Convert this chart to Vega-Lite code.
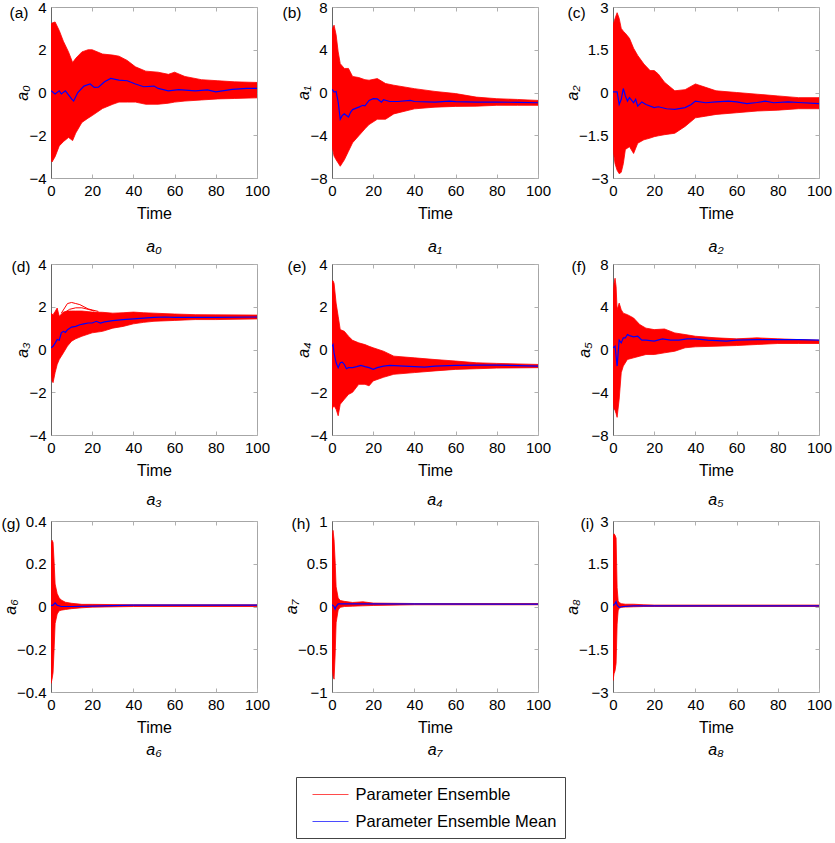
{
  "$schema": "https://vega.github.io/schema/vega-lite/v6.json",
  "background": "white",
  "padding": {"left": 0, "top": -1, "right": 2, "bottom": 0},
  "columns": 3,
  "spacing": {"row": 86, "column": 75},
  "bounds": "flush",
  "resolve": {"scale": {"x": "independent", "y": "independent", "stroke": "shared"}, "legend": {"stroke": "shared"}},
  "datasets": {
    "band": [
      {"p":"a0","t":0,"lo":-3.1,"hi":3.2},{"p":"a0","t":0.5,"lo":-3.25,"hi":3.25},{"p":"a0","t":2,"lo":-3.0,"hi":3.3},{"p":"a0","t":4,"lo":-2.5,"hi":2.9},{"p":"a0","t":6,"lo":-2.3,"hi":2.4},{"p":"a0","t":8.5,"lo":-2.1,"hi":1.9},{"p":"a0","t":10.5,"lo":-2.25,"hi":1.4},{"p":"a0","t":12,"lo":-1.9,"hi":1.6},{"p":"a0","t":15,"lo":-1.4,"hi":1.9},{"p":"a0","t":18,"lo":-1.2,"hi":2.0},{"p":"a0","t":20,"lo":-1.08,"hi":2.0},{"p":"a0","t":25,"lo":-0.75,"hi":1.8},{"p":"a0","t":30,"lo":-0.55,"hi":1.75},{"p":"a0","t":33,"lo":-0.45,"hi":1.7},{"p":"a0","t":37,"lo":-0.45,"hi":1.5},{"p":"a0","t":41,"lo":-0.45,"hi":1.2},{"p":"a0","t":46,"lo":-0.55,"hi":1.0},{"p":"a0","t":52,"lo":-0.55,"hi":0.95},{"p":"a0","t":57,"lo":-0.5,"hi":0.85},{"p":"a0","t":60,"lo":-0.45,"hi":0.95},{"p":"a0","t":65,"lo":-0.4,"hi":0.75},{"p":"a0","t":73,"lo":-0.35,"hi":0.6},{"p":"a0","t":81,"lo":-0.3,"hi":0.55},{"p":"a0","t":89,"lo":-0.28,"hi":0.5},{"p":"a0","t":100,"lo":-0.25,"hi":0.47},
      {"p":"a1","t":0,"lo":-5.0,"hi":5.9},{"p":"a1","t":1,"lo":-5.95,"hi":6.3},{"p":"a1","t":2,"lo":-6.3,"hi":5.4},{"p":"a1","t":3,"lo":-6.6,"hi":3.8},{"p":"a1","t":4,"lo":-6.9,"hi":2.7},{"p":"a1","t":6,"lo":-6.3,"hi":2.25},{"p":"a1","t":8,"lo":-5.5,"hi":2.25},{"p":"a1","t":10,"lo":-4.7,"hi":1.5},{"p":"a1","t":13,"lo":-4.05,"hi":1.4},{"p":"a1","t":16,"lo":-3.4,"hi":1.2},{"p":"a1","t":18,"lo":-3.0,"hi":1.15},{"p":"a1","t":22,"lo":-2.5,"hi":1.3},{"p":"a1","t":26,"lo":-2.5,"hi":0.84},{"p":"a1","t":30,"lo":-2.0,"hi":0.68},{"p":"a1","t":40,"lo":-1.53,"hi":0.36},{"p":"a1","t":50,"lo":-1.37,"hi":0.1},{"p":"a1","t":60,"lo":-1.3,"hi":-0.1},{"p":"a1","t":70,"lo":-1.28,"hi":-0.43},{"p":"a1","t":80,"lo":-1.2,"hi":-0.58},{"p":"a1","t":90,"lo":-1.2,"hi":-0.65},{"p":"a1","t":100,"lo":-1.2,"hi":-0.74},
      {"p":"a2","t":0,"lo":-2.0,"hi":2.37},{"p":"a2","t":1,"lo":-2.5,"hi":2.6},{"p":"a2","t":2,"lo":-2.73,"hi":2.8},{"p":"a2","t":3,"lo":-2.85,"hi":2.6},{"p":"a2","t":4,"lo":-2.8,"hi":2.25},{"p":"a2","t":5,"lo":-2.5,"hi":2.15},{"p":"a2","t":6,"lo":-2.0,"hi":2.08},{"p":"a2","t":8,"lo":-1.9,"hi":1.9},{"p":"a2","t":10,"lo":-2.14,"hi":1.55},{"p":"a2","t":12,"lo":-1.78,"hi":1.3},{"p":"a2","t":15,"lo":-1.66,"hi":1.0},{"p":"a2","t":18,"lo":-1.6,"hi":0.77},{"p":"a2","t":20,"lo":-1.55,"hi":0.77},{"p":"a2","t":22,"lo":-1.52,"hi":0.65},{"p":"a2","t":25,"lo":-1.48,"hi":0.36},{"p":"a2","t":30,"lo":-1.43,"hi":0.06},{"p":"a2","t":35,"lo":-1.19,"hi":0.1},{"p":"a2","t":40,"lo":-0.89,"hi":0.3},{"p":"a2","t":45,"lo":-0.83,"hi":0.18},{"p":"a2","t":50,"lo":-0.77,"hi":0.06},{"p":"a2","t":60,"lo":-0.71,"hi":0.0},{"p":"a2","t":70,"lo":-0.65,"hi":-0.06},{"p":"a2","t":80,"lo":-0.62,"hi":-0.12},{"p":"a2","t":90,"lo":-0.57,"hi":-0.18},{"p":"a2","t":100,"lo":-0.57,"hi":-0.18},
      {"p":"a3","t":0,"lo":-0.93,"hi":1.7},{"p":"a3","t":0.5,"lo":-1.47,"hi":1.65},{"p":"a3","t":1,"lo":-1.55,"hi":1.63},{"p":"a3","t":2,"lo":-1.08,"hi":1.78},{"p":"a3","t":3,"lo":-0.7,"hi":1.94},{"p":"a3","t":4,"lo":-0.47,"hi":1.55},{"p":"a3","t":6,"lo":-0.16,"hi":1.75},{"p":"a3","t":8,"lo":0.16,"hi":1.8},{"p":"a3","t":10,"lo":0.39,"hi":1.8},{"p":"a3","t":12,"lo":0.5,"hi":1.8},{"p":"a3","t":15,"lo":0.62,"hi":1.8},{"p":"a3","t":20,"lo":0.78,"hi":1.75},{"p":"a3","t":25,"lo":0.85,"hi":1.74},{"p":"a3","t":30,"lo":1.0,"hi":1.7},{"p":"a3","t":35,"lo":1.08,"hi":1.72},{"p":"a3","t":40,"lo":1.2,"hi":1.75},{"p":"a3","t":45,"lo":1.27,"hi":1.72},{"p":"a3","t":50,"lo":1.32,"hi":1.7},{"p":"a3","t":60,"lo":1.36,"hi":1.66},{"p":"a3","t":70,"lo":1.4,"hi":1.63},{"p":"a3","t":80,"lo":1.4,"hi":1.62},{"p":"a3","t":100,"lo":1.43,"hi":1.61},
      {"p":"a4","t":0,"lo":-2.8,"hi":3.18},{"p":"a4","t":0.5,"lo":-2.7,"hi":3.22},{"p":"a4","t":1,"lo":-2.63,"hi":3.1},{"p":"a4","t":2,"lo":-2.8,"hi":2.17},{"p":"a4","t":3,"lo":-3.1,"hi":1.55},{"p":"a4","t":4,"lo":-2.56,"hi":0.93},{"p":"a4","t":6,"lo":-2.33,"hi":0.85},{"p":"a4","t":8,"lo":-2.1,"hi":0.62},{"p":"a4","t":10,"lo":-2.0,"hi":0.43},{"p":"a4","t":13,"lo":-1.63,"hi":0.31},{"p":"a4","t":16,"lo":-1.63,"hi":0.23},{"p":"a4","t":18,"lo":-1.7,"hi":0.15},{"p":"a4","t":20,"lo":-1.47,"hi":0.08},{"p":"a4","t":25,"lo":-1.3,"hi":-0.08},{"p":"a4","t":30,"lo":-1.16,"hi":-0.31},{"p":"a4","t":40,"lo":-1.08,"hi":-0.39},{"p":"a4","t":50,"lo":-1.0,"hi":-0.47},{"p":"a4","t":60,"lo":-0.93,"hi":-0.54},{"p":"a4","t":70,"lo":-0.9,"hi":-0.62},{"p":"a4","t":80,"lo":-0.87,"hi":-0.65},{"p":"a4","t":100,"lo":-0.85,"hi":-0.7},
      {"p":"a5","t":0,"lo":-4.96,"hi":4.96},{"p":"a5","t":0.5,"lo":-5.6,"hi":6.2},{"p":"a5","t":1,"lo":-5.7,"hi":6.67},{"p":"a5","t":1.5,"lo":-6.0,"hi":5.9},{"p":"a5","t":2,"lo":-6.35,"hi":3.72},{"p":"a5","t":3,"lo":-4.65,"hi":4.34},{"p":"a5","t":4,"lo":-2.17,"hi":3.72},{"p":"a5","t":5,"lo":-1.55,"hi":3.4},{"p":"a5","t":7,"lo":-0.93,"hi":3.26},{"p":"a5","t":10,"lo":-0.78,"hi":2.95},{"p":"a5","t":13,"lo":-0.62,"hi":2.33},{"p":"a5","t":16,"lo":-0.47,"hi":2.0},{"p":"a5","t":20,"lo":-0.47,"hi":1.86},{"p":"a5","t":25,"lo":-0.31,"hi":1.92},{"p":"a5","t":30,"lo":-0.16,"hi":1.55},{"p":"a5","t":35,"lo":0.16,"hi":1.4},{"p":"a5","t":40,"lo":0.25,"hi":1.24},{"p":"a5","t":50,"lo":0.31,"hi":1.09},{"p":"a5","t":60,"lo":0.37,"hi":1.0},{"p":"a5","t":70,"lo":0.47,"hi":1.09},{"p":"a5","t":80,"lo":0.56,"hi":1.0},{"p":"a5","t":90,"lo":0.56,"hi":0.93},{"p":"a5","t":100,"lo":0.56,"hi":0.87},
      {"p":"a6","t":0,"lo":-0.36,"hi":0.29},{"p":"a6","t":0.5,"lo":-0.34,"hi":0.31},{"p":"a6","t":1,"lo":-0.31,"hi":0.3},{"p":"a6","t":1.5,"lo":-0.2,"hi":0.21},{"p":"a6","t":2,"lo":-0.08,"hi":0.105},{"p":"a6","t":3,"lo":-0.035,"hi":0.06},{"p":"a6","t":4,"lo":-0.02,"hi":0.04},{"p":"a6","t":5,"lo":-0.017,"hi":0.03},{"p":"a6","t":7,"lo":-0.014,"hi":0.02},{"p":"a6","t":10,"lo":-0.01,"hi":0.015},{"p":"a6","t":15,"lo":-0.006,"hi":0.01},{"p":"a6","t":20,"lo":-0.003,"hi":0.01},{"p":"a6","t":40,"lo":0.0,"hi":0.008},{"p":"a6","t":100,"lo":0.0,"hi":0.008},
      {"p":"a7","t":0,"lo":-0.66,"hi":0.81},{"p":"a7","t":0.5,"lo":-0.81,"hi":0.89},{"p":"a7","t":1,"lo":-0.85,"hi":0.78},{"p":"a7","t":1.5,"lo":-0.58,"hi":0.54},{"p":"a7","t":2,"lo":-0.19,"hi":0.23},{"p":"a7","t":3,"lo":-0.04,"hi":0.1},{"p":"a7","t":4,"lo":-0.01,"hi":0.07},{"p":"a7","t":6,"lo":0.0,"hi":0.06},{"p":"a7","t":10,"lo":0.004,"hi":0.047},{"p":"a7","t":15,"lo":0.008,"hi":0.055},{"p":"a7","t":20,"lo":0.012,"hi":0.04},{"p":"a7","t":40,"lo":0.02,"hi":0.035},{"p":"a7","t":100,"lo":0.02,"hi":0.035},
      {"p":"a8","t":0,"lo":-2.6,"hi":2.47},{"p":"a8","t":0.5,"lo":-2.36,"hi":2.55},{"p":"a8","t":1,"lo":-2.25,"hi":2.5},{"p":"a8","t":1.5,"lo":-2.0,"hi":2.4},{"p":"a8","t":2,"lo":-0.62,"hi":0.66},{"p":"a8","t":2.5,"lo":-0.15,"hi":0.2},{"p":"a8","t":3,"lo":-0.06,"hi":0.14},{"p":"a8","t":4,"lo":-0.03,"hi":0.1},{"p":"a8","t":6,"lo":-0.02,"hi":0.08},{"p":"a8","t":10,"lo":-0.01,"hi":0.08},{"p":"a8","t":15,"lo":0.0,"hi":0.06},{"p":"a8","t":20,"lo":0.0,"hi":0.05},{"p":"a8","t":100,"lo":0.0,"hi":0.05}
    ],
    "extra": [
      {"p":"a3","id":1,"t":5,"v":1.7},{"p":"a3","id":1,"t":8,"v":2.15},{"p":"a3","id":1,"t":10,"v":2.2},{"p":"a3","id":1,"t":12,"v":2.15},{"p":"a3","id":1,"t":14,"v":2.1},{"p":"a3","id":1,"t":16,"v":2.0},{"p":"a3","id":1,"t":18,"v":1.9},{"p":"a3","id":1,"t":20,"v":1.85},{"p":"a3","id":1,"t":23,"v":1.78},
      {"p":"a3","id":2,"t":7,"v":1.75},{"p":"a3","id":2,"t":9,"v":1.88},{"p":"a3","id":2,"t":12,"v":1.95},{"p":"a3","id":2,"t":15,"v":1.95},{"p":"a3","id":2,"t":18,"v":1.88},{"p":"a3","id":2,"t":21,"v":1.8}
    ],
    "mean": [
      {"p":"a0","t":0,"v":0.08},{"p":"a0","t":2,"v":-0.07},{"p":"a0","t":4,"v":0.08},{"p":"a0","t":5,"v":-0.07},{"p":"a0","t":7,"v":0.08},{"p":"a0","t":10,"v":-0.3},{"p":"a0","t":11,"v":-0.4},{"p":"a0","t":13,"v":0.0},{"p":"a0","t":16,"v":0.3},{"p":"a0","t":19,"v":0.4},{"p":"a0","t":21,"v":0.24},{"p":"a0","t":23,"v":0.25},{"p":"a0","t":26,"v":0.5},{"p":"a0","t":29,"v":0.66},{"p":"a0","t":33,"v":0.58},{"p":"a0","t":37,"v":0.55},{"p":"a0","t":41,"v":0.4},{"p":"a0","t":45,"v":0.27},{"p":"a0","t":50,"v":0.3},{"p":"a0","t":52,"v":0.19},{"p":"a0","t":57,"v":0.08},{"p":"a0","t":62,"v":0.13},{"p":"a0","t":70,"v":0.08},{"p":"a0","t":76,"v":0.12},{"p":"a0","t":80,"v":0.03},{"p":"a0","t":88,"v":0.15},{"p":"a0","t":95,"v":0.19},{"p":"a0","t":100,"v":0.19},
      {"p":"a1","t":0,"v":0.3},{"p":"a1","t":1,"v":0.05},{"p":"a1","t":2,"v":0.1},{"p":"a1","t":3,"v":-0.9},{"p":"a1","t":4,"v":-2.5},{"p":"a1","t":5,"v":-2.15},{"p":"a1","t":6,"v":-2.0},{"p":"a1","t":7,"v":-2.15},{"p":"a1","t":8,"v":-2.3},{"p":"a1","t":9,"v":-1.85},{"p":"a1","t":10,"v":-1.6},{"p":"a1","t":13,"v":-1.37},{"p":"a1","t":15,"v":-1.2},{"p":"a1","t":16,"v":-1.25},{"p":"a1","t":18,"v":-0.74},{"p":"a1","t":20,"v":-0.58},{"p":"a1","t":22,"v":-0.6},{"p":"a1","t":24,"v":-0.9},{"p":"a1","t":25,"v":-0.68},{"p":"a1","t":28,"v":-0.84},{"p":"a1","t":32,"v":-0.84},{"p":"a1","t":38,"v":-0.74},{"p":"a1","t":40,"v":-0.84},{"p":"a1","t":50,"v":-0.9},{"p":"a1","t":57,"v":-0.8},{"p":"a1","t":60,"v":-0.85},{"p":"a1","t":70,"v":-0.9},{"p":"a1","t":80,"v":-0.9},{"p":"a1","t":90,"v":-0.92},{"p":"a1","t":100,"v":-0.96},
      {"p":"a2","t":0,"v":0.02},{"p":"a2","t":2,"v":0.02},{"p":"a2","t":3,"v":-0.42},{"p":"a2","t":4,"v":-0.24},{"p":"a2","t":5,"v":0.14},{"p":"a2","t":6,"v":-0.12},{"p":"a2","t":7,"v":-0.3},{"p":"a2","t":8,"v":-0.18},{"p":"a2","t":10,"v":-0.36},{"p":"a2","t":11,"v":-0.24},{"p":"a2","t":12,"v":-0.48},{"p":"a2","t":14,"v":-0.33},{"p":"a2","t":16,"v":-0.42},{"p":"a2","t":20,"v":-0.53},{"p":"a2","t":22,"v":-0.5},{"p":"a2","t":26,"v":-0.57},{"p":"a2","t":30,"v":-0.59},{"p":"a2","t":35,"v":-0.53},{"p":"a2","t":38,"v":-0.42},{"p":"a2","t":40,"v":-0.3},{"p":"a2","t":45,"v":-0.36},{"p":"a2","t":50,"v":-0.33},{"p":"a2","t":56,"v":-0.3},{"p":"a2","t":60,"v":-0.33},{"p":"a2","t":65,"v":-0.39},{"p":"a2","t":70,"v":-0.35},{"p":"a2","t":74,"v":-0.3},{"p":"a2","t":78,"v":-0.36},{"p":"a2","t":85,"v":-0.33},{"p":"a2","t":90,"v":-0.35},{"p":"a2","t":100,"v":-0.39},
      {"p":"a3","t":0,"v":0.08},{"p":"a3","t":1,"v":0.15},{"p":"a3","t":2,"v":0.3},{"p":"a3","t":3,"v":0.47},{"p":"a3","t":4,"v":0.43},{"p":"a3","t":5,"v":0.78},{"p":"a3","t":6,"v":0.85},{"p":"a3","t":7,"v":0.8},{"p":"a3","t":8,"v":0.93},{"p":"a3","t":10,"v":1.05},{"p":"a3","t":12,"v":1.08},{"p":"a3","t":14,"v":1.16},{"p":"a3","t":16,"v":1.2},{"p":"a3","t":18,"v":1.24},{"p":"a3","t":20,"v":1.24},{"p":"a3","t":22,"v":1.32},{"p":"a3","t":24,"v":1.24},{"p":"a3","t":26,"v":1.29},{"p":"a3","t":30,"v":1.35},{"p":"a3","t":35,"v":1.4},{"p":"a3","t":40,"v":1.43},{"p":"a3","t":45,"v":1.47},{"p":"a3","t":50,"v":1.5},{"p":"a3","t":55,"v":1.52},{"p":"a3","t":60,"v":1.5},{"p":"a3","t":70,"v":1.5},{"p":"a3","t":80,"v":1.5},{"p":"a3","t":100,"v":1.52},
      {"p":"a4","t":0,"v":0.15},{"p":"a4","t":0.5,"v":0.23},{"p":"a4","t":1,"v":-0.16},{"p":"a4","t":2,"v":-0.62},{"p":"a4","t":3,"v":-0.85},{"p":"a4","t":4,"v":-0.62},{"p":"a4","t":5,"v":-0.59},{"p":"a4","t":6,"v":-0.7},{"p":"a4","t":7,"v":-0.9},{"p":"a4","t":8,"v":-0.85},{"p":"a4","t":10,"v":-0.85},{"p":"a4","t":12,"v":-0.8},{"p":"a4","t":14,"v":-0.74},{"p":"a4","t":16,"v":-0.8},{"p":"a4","t":18,"v":-0.85},{"p":"a4","t":20,"v":-0.93},{"p":"a4","t":22,"v":-0.85},{"p":"a4","t":25,"v":-0.78},{"p":"a4","t":28,"v":-0.74},{"p":"a4","t":35,"v":-0.78},{"p":"a4","t":40,"v":-0.8},{"p":"a4","t":45,"v":-0.82},{"p":"a4","t":50,"v":-0.78},{"p":"a4","t":60,"v":-0.74},{"p":"a4","t":70,"v":-0.73},{"p":"a4","t":80,"v":-0.73},{"p":"a4","t":100,"v":-0.78},
      {"p":"a5","t":0,"v":0.16},{"p":"a5","t":1,"v":0.31},{"p":"a5","t":2,"v":-1.55},{"p":"a5","t":3,"v":0.87},{"p":"a5","t":4,"v":0.62},{"p":"a5","t":5,"v":1.09},{"p":"a5","t":6,"v":1.09},{"p":"a5","t":7,"v":1.4},{"p":"a5","t":8,"v":1.3},{"p":"a5","t":10,"v":1.18},{"p":"a5","t":12,"v":1.24},{"p":"a5","t":14,"v":0.87},{"p":"a5","t":16,"v":0.87},{"p":"a5","t":20,"v":0.78},{"p":"a5","t":24,"v":1.0},{"p":"a5","t":28,"v":0.87},{"p":"a5","t":32,"v":0.87},{"p":"a5","t":36,"v":1.0},{"p":"a5","t":40,"v":1.0},{"p":"a5","t":46,"v":0.87},{"p":"a5","t":55,"v":0.78},{"p":"a5","t":60,"v":0.87},{"p":"a5","t":70,"v":0.93},{"p":"a5","t":80,"v":0.93},{"p":"a5","t":90,"v":0.93},{"p":"a5","t":100,"v":0.87},
      {"p":"a6","t":0,"v":0.005},{"p":"a6","t":1,"v":0.006},{"p":"a6","t":2,"v":0.017},{"p":"a6","t":3,"v":0.006},{"p":"a6","t":5,"v":0.0},{"p":"a6","t":10,"v":0.0},{"p":"a6","t":20,"v":0.002},{"p":"a6","t":40,"v":0.006},{"p":"a6","t":100,"v":0.006},
      {"p":"a7","t":0,"v":0.02},{"p":"a7","t":1,"v":0.0},{"p":"a7","t":1.5,"v":-0.03},{"p":"a7","t":2,"v":0.0},{"p":"a7","t":3,"v":0.03},{"p":"a7","t":5,"v":0.03},{"p":"a7","t":10,"v":0.03},{"p":"a7","t":100,"v":0.027},
      {"p":"a8","t":0,"v":0.03},{"p":"a8","t":1,"v":0.1},{"p":"a8","t":1.5,"v":0.17},{"p":"a8","t":2,"v":0.05},{"p":"a8","t":3,"v":-0.03},{"p":"a8","t":5,"v":0.0},{"p":"a8","t":10,"v":0.02},{"p":"a8","t":100,"v":0.02}
    ]
  },
  "concat": [
    {
      "width": 206, "height": 171,
      "title": {"text": "a₀", "orient": "bottom", "offset": 18},
      "resolve": {"axis": {"x": "independent", "y": "independent"}},
      "layer": [
        {"data": {"name": "band"}, "transform": [{"filter": "datum.p == 'a0'"}],
         "mark": {"type": "area", "fill": "#ff0000", "strokeWidth": 0.8, "clip": true},
         "encoding": {
           "x": {"field": "t", "type": "quantitative", "scale": {"domain": [0, 100], "nice": false}, "axis": {"orient": "bottom", "values": [0, 20, 40, 60, 80, 100], "title": "Time"}},
           "y": {"field": "lo", "type": "quantitative", "scale": {"domain": [-4, 4], "nice": false, "zero": false}, "axis": {"orient": "left", "values": [-4, -2, 0, 2, 4], "title": "a₀"}},
           "y2": {"field": "hi"},
           "stroke": {"datum": "Parameter Ensemble", "type": "nominal", "scale": {"domain": ["Parameter Ensemble", "Parameter Ensemble Mean"], "range": ["#ff0000", "#0000ff"]},
             "legend": {"title": null, "orient": "none", "legendX": 245, "legendY": 770, "strokeColor": "#444", "padding": 8, "symbolType": "M-2,0H2", "symbolSize": 324, "symbolStrokeWidth": 1, "symbolOffset": 17, "labelOffset": 15.5, "labelLimit": 400, "labelFont": "Liberation Sans", "labelFontSize": 16.5, "labelColor": "#000", "rowPadding": 9, "symbolOpacity": 0.7}}
         }},
        {"data": {"name": "mean"}, "transform": [{"filter": "datum.p == 'a0'"}],
         "mark": {"type": "line", "strokeWidth": 1.2, "clip": true},
         "encoding": {
           "x": {"field": "t", "type": "quantitative", "scale": {"domain": [0, 100], "nice": false}, "axis": {"orient": "top", "values": [0, 20, 40, 60, 80, 100], "title": "(a)", "titleX": -42, "titleY": 5}},
           "y": {"field": "v", "type": "quantitative", "scale": {"domain": [-4, 4], "nice": false, "zero": false}, "axis": {"orient": "right", "values": [-4, -2, 0, 2, 4], "title": null}},
           "stroke": {"datum": "Parameter Ensemble Mean", "type": "nominal", "scale": {"domain": ["Parameter Ensemble", "Parameter Ensemble Mean"], "range": ["#ff0000", "#0000ff"]}}
         }}
      ]
    },
    {
      "width": 206, "height": 171,
      "title": {"text": "a₁", "orient": "bottom", "offset": 18},
      "resolve": {"axis": {"x": "independent", "y": "independent"}},
      "layer": [
        {"data": {"name": "band"}, "transform": [{"filter": "datum.p == 'a1'"}],
         "mark": {"type": "area", "fill": "#ff0000", "strokeWidth": 0.8, "clip": true},
         "encoding": {
           "x": {"field": "t", "type": "quantitative", "scale": {"domain": [0, 100], "nice": false}, "axis": {"orient": "bottom", "values": [0, 20, 40, 60, 80, 100], "title": "Time"}},
           "y": {"field": "lo", "type": "quantitative", "scale": {"domain": [-8, 8], "nice": false, "zero": false}, "axis": {"orient": "left", "values": [-8, -4, 0, 4, 8], "title": "a₁"}},
           "y2": {"field": "hi"},
           "stroke": {"datum": "Parameter Ensemble", "type": "nominal", "scale": {"domain": ["Parameter Ensemble", "Parameter Ensemble Mean"], "range": ["#ff0000", "#0000ff"]}}
         }},
        {"data": {"name": "mean"}, "transform": [{"filter": "datum.p == 'a1'"}],
         "mark": {"type": "line", "strokeWidth": 1.2, "clip": true},
         "encoding": {
           "x": {"field": "t", "type": "quantitative", "scale": {"domain": [0, 100], "nice": false}, "axis": {"orient": "top", "values": [0, 20, 40, 60, 80, 100], "title": "(b)", "titleX": -50, "titleY": 5}},
           "y": {"field": "v", "type": "quantitative", "scale": {"domain": [-8, 8], "nice": false, "zero": false}, "axis": {"orient": "right", "values": [-8, -4, 0, 4, 8], "title": null}},
           "stroke": {"datum": "Parameter Ensemble Mean", "type": "nominal", "scale": {"domain": ["Parameter Ensemble", "Parameter Ensemble Mean"], "range": ["#ff0000", "#0000ff"]}}
         }}
      ]
    },
    {
      "width": 206, "height": 171,
      "title": {"text": "a₂", "orient": "bottom", "offset": 18},
      "resolve": {"axis": {"x": "independent", "y": "independent"}},
      "layer": [
        {"data": {"name": "band"}, "transform": [{"filter": "datum.p == 'a2'"}],
         "mark": {"type": "area", "fill": "#ff0000", "strokeWidth": 0.8, "clip": true},
         "encoding": {
           "x": {"field": "t", "type": "quantitative", "scale": {"domain": [0, 100], "nice": false}, "axis": {"orient": "bottom", "values": [0, 20, 40, 60, 80, 100], "title": "Time"}},
           "y": {"field": "lo", "type": "quantitative", "scale": {"domain": [-3, 3], "nice": false, "zero": false}, "axis": {"orient": "left", "values": [-3, -1.5, 0, 1.5, 3], "title": "a₂"}},
           "y2": {"field": "hi"},
           "stroke": {"datum": "Parameter Ensemble", "type": "nominal", "scale": {"domain": ["Parameter Ensemble", "Parameter Ensemble Mean"], "range": ["#ff0000", "#0000ff"]}}
         }},
        {"data": {"name": "mean"}, "transform": [{"filter": "datum.p == 'a2'"}],
         "mark": {"type": "line", "strokeWidth": 1.2, "clip": true},
         "encoding": {
           "x": {"field": "t", "type": "quantitative", "scale": {"domain": [0, 100], "nice": false}, "axis": {"orient": "top", "values": [0, 20, 40, 60, 80, 100], "title": "(c)", "titleX": -46, "titleY": 5}},
           "y": {"field": "v", "type": "quantitative", "scale": {"domain": [-3, 3], "nice": false, "zero": false}, "axis": {"orient": "right", "values": [-3, -1.5, 0, 1.5, 3], "title": null}},
           "stroke": {"datum": "Parameter Ensemble Mean", "type": "nominal", "scale": {"domain": ["Parameter Ensemble", "Parameter Ensemble Mean"], "range": ["#ff0000", "#0000ff"]}}
         }}
      ]
    },
    {
      "width": 206, "height": 171,
      "title": {"text": "a₃", "orient": "bottom", "offset": 14},
      "resolve": {"axis": {"x": "independent", "y": "independent"}},
      "layer": [
        {"data": {"name": "band"}, "transform": [{"filter": "datum.p == 'a3'"}],
         "mark": {"type": "area", "fill": "#ff0000", "strokeWidth": 0.8, "clip": true},
         "encoding": {
           "x": {"field": "t", "type": "quantitative", "scale": {"domain": [0, 100], "nice": false}, "axis": {"orient": "bottom", "values": [0, 20, 40, 60, 80, 100], "title": "Time"}},
           "y": {"field": "lo", "type": "quantitative", "scale": {"domain": [-4, 4], "nice": false, "zero": false}, "axis": {"orient": "left", "values": [-4, -2, 0, 2, 4], "title": "a₃"}},
           "y2": {"field": "hi"},
           "stroke": {"datum": "Parameter Ensemble", "type": "nominal", "scale": {"domain": ["Parameter Ensemble", "Parameter Ensemble Mean"], "range": ["#ff0000", "#0000ff"]}}
         }},
        {"data": {"name": "extra"}, "transform": [{"filter": "datum.p == 'a3'"}],
         "mark": {"type": "line", "strokeWidth": 1, "clip": true},
         "encoding": {
           "x": {"field": "t", "type": "quantitative", "scale": {"domain": [0, 100], "nice": false}, "axis": null},
           "y": {"field": "v", "type": "quantitative", "scale": {"domain": [-4, 4], "nice": false, "zero": false}, "axis": null},
           "detail": {"field": "id", "type": "nominal"},
           "stroke": {"datum": "Parameter Ensemble", "type": "nominal", "scale": {"domain": ["Parameter Ensemble", "Parameter Ensemble Mean"], "range": ["#ff0000", "#0000ff"]}}
         }},
        {"data": {"name": "mean"}, "transform": [{"filter": "datum.p == 'a3'"}],
         "mark": {"type": "line", "strokeWidth": 1.2, "clip": true},
         "encoding": {
           "x": {"field": "t", "type": "quantitative", "scale": {"domain": [0, 100], "nice": false}, "axis": {"orient": "top", "values": [0, 20, 40, 60, 80, 100], "title": "(d)", "titleX": -40, "titleY": 2}},
           "y": {"field": "v", "type": "quantitative", "scale": {"domain": [-4, 4], "nice": false, "zero": false}, "axis": {"orient": "right", "values": [-4, -2, 0, 2, 4], "title": null}},
           "stroke": {"datum": "Parameter Ensemble Mean", "type": "nominal", "scale": {"domain": ["Parameter Ensemble", "Parameter Ensemble Mean"], "range": ["#ff0000", "#0000ff"]}}
         }}
      ]
    },
    {
      "width": 206, "height": 171,
      "title": {"text": "a₄", "orient": "bottom", "offset": 14},
      "resolve": {"axis": {"x": "independent", "y": "independent"}},
      "layer": [
        {"data": {"name": "band"}, "transform": [{"filter": "datum.p == 'a4'"}],
         "mark": {"type": "area", "fill": "#ff0000", "strokeWidth": 0.8, "clip": true},
         "encoding": {
           "x": {"field": "t", "type": "quantitative", "scale": {"domain": [0, 100], "nice": false}, "axis": {"orient": "bottom", "values": [0, 20, 40, 60, 80, 100], "title": "Time"}},
           "y": {"field": "lo", "type": "quantitative", "scale": {"domain": [-4, 4], "nice": false, "zero": false}, "axis": {"orient": "left", "values": [-4, -2, 0, 2, 4], "title": "a₄"}},
           "y2": {"field": "hi"},
           "stroke": {"datum": "Parameter Ensemble", "type": "nominal", "scale": {"domain": ["Parameter Ensemble", "Parameter Ensemble Mean"], "range": ["#ff0000", "#0000ff"]}}
         }},
        {"data": {"name": "mean"}, "transform": [{"filter": "datum.p == 'a4'"}],
         "mark": {"type": "line", "strokeWidth": 1.2, "clip": true},
         "encoding": {
           "x": {"field": "t", "type": "quantitative", "scale": {"domain": [0, 100], "nice": false}, "axis": {"orient": "top", "values": [0, 20, 40, 60, 80, 100], "title": "(e)", "titleX": -45, "titleY": 2}},
           "y": {"field": "v", "type": "quantitative", "scale": {"domain": [-4, 4], "nice": false, "zero": false}, "axis": {"orient": "right", "values": [-4, -2, 0, 2, 4], "title": null}},
           "stroke": {"datum": "Parameter Ensemble Mean", "type": "nominal", "scale": {"domain": ["Parameter Ensemble", "Parameter Ensemble Mean"], "range": ["#ff0000", "#0000ff"]}}
         }}
      ]
    },
    {
      "width": 206, "height": 171,
      "title": {"text": "a₅", "orient": "bottom", "offset": 14},
      "resolve": {"axis": {"x": "independent", "y": "independent"}},
      "layer": [
        {"data": {"name": "band"}, "transform": [{"filter": "datum.p == 'a5'"}],
         "mark": {"type": "area", "fill": "#ff0000", "strokeWidth": 0.8, "clip": true},
         "encoding": {
           "x": {"field": "t", "type": "quantitative", "scale": {"domain": [0, 100], "nice": false}, "axis": {"orient": "bottom", "values": [0, 20, 40, 60, 80, 100], "title": "Time"}},
           "y": {"field": "lo", "type": "quantitative", "scale": {"domain": [-8, 8], "nice": false, "zero": false}, "axis": {"orient": "left", "values": [-8, -4, 0, 4, 8], "title": "a₅"}},
           "y2": {"field": "hi"},
           "stroke": {"datum": "Parameter Ensemble", "type": "nominal", "scale": {"domain": ["Parameter Ensemble", "Parameter Ensemble Mean"], "range": ["#ff0000", "#0000ff"]}}
         }},
        {"data": {"name": "mean"}, "transform": [{"filter": "datum.p == 'a5'"}],
         "mark": {"type": "line", "strokeWidth": 1.2, "clip": true},
         "encoding": {
           "x": {"field": "t", "type": "quantitative", "scale": {"domain": [0, 100], "nice": false}, "axis": {"orient": "top", "values": [0, 20, 40, 60, 80, 100], "title": "(f)", "titleX": -42, "titleY": 2}},
           "y": {"field": "v", "type": "quantitative", "scale": {"domain": [-8, 8], "nice": false, "zero": false}, "axis": {"orient": "right", "values": [-8, -4, 0, 4, 8], "title": null}},
           "stroke": {"datum": "Parameter Ensemble Mean", "type": "nominal", "scale": {"domain": ["Parameter Ensemble", "Parameter Ensemble Mean"], "range": ["#ff0000", "#0000ff"]}}
         }}
      ]
    },
    {
      "width": 206, "height": 171,
      "title": {"text": "a₆", "orient": "bottom", "offset": 7},
      "resolve": {"axis": {"x": "independent", "y": "independent"}},
      "layer": [
        {"data": {"name": "band"}, "transform": [{"filter": "datum.p == 'a6'"}],
         "mark": {"type": "area", "fill": "#ff0000", "strokeWidth": 0.8, "clip": true},
         "encoding": {
           "x": {"field": "t", "type": "quantitative", "scale": {"domain": [0, 100], "nice": false}, "axis": {"orient": "bottom", "values": [0, 20, 40, 60, 80, 100], "title": "Time"}},
           "y": {"field": "lo", "type": "quantitative", "scale": {"domain": [-0.4, 0.4], "nice": false, "zero": false}, "axis": {"orient": "left", "values": [-0.4, -0.2, 0, 0.2, 0.4], "title": "a₆"}},
           "y2": {"field": "hi"},
           "stroke": {"datum": "Parameter Ensemble", "type": "nominal", "scale": {"domain": ["Parameter Ensemble", "Parameter Ensemble Mean"], "range": ["#ff0000", "#0000ff"]}}
         }},
        {"data": {"name": "mean"}, "transform": [{"filter": "datum.p == 'a6'"}],
         "mark": {"type": "line", "strokeWidth": 1.2, "clip": true},
         "encoding": {
           "x": {"field": "t", "type": "quantitative", "scale": {"domain": [0, 100], "nice": false}, "axis": {"orient": "top", "values": [0, 20, 40, 60, 80, 100], "title": "(g)", "titleX": -50, "titleY": 2}},
           "y": {"field": "v", "type": "quantitative", "scale": {"domain": [-0.4, 0.4], "nice": false, "zero": false}, "axis": {"orient": "right", "values": [-0.4, -0.2, 0, 0.2, 0.4], "title": null}},
           "stroke": {"datum": "Parameter Ensemble Mean", "type": "nominal", "scale": {"domain": ["Parameter Ensemble", "Parameter Ensemble Mean"], "range": ["#ff0000", "#0000ff"]}}
         }}
      ]
    },
    {
      "width": 206, "height": 171,
      "title": {"text": "a₇", "orient": "bottom", "offset": 7},
      "resolve": {"axis": {"x": "independent", "y": "independent"}},
      "layer": [
        {"data": {"name": "band"}, "transform": [{"filter": "datum.p == 'a7'"}],
         "mark": {"type": "area", "fill": "#ff0000", "strokeWidth": 0.8, "clip": true},
         "encoding": {
           "x": {"field": "t", "type": "quantitative", "scale": {"domain": [0, 100], "nice": false}, "axis": {"orient": "bottom", "values": [0, 20, 40, 60, 80, 100], "title": "Time"}},
           "y": {"field": "lo", "type": "quantitative", "scale": {"domain": [-1, 1], "nice": false, "zero": false}, "axis": {"orient": "left", "values": [-1, -0.5, 0, 0.5, 1], "title": "a₇"}},
           "y2": {"field": "hi"},
           "stroke": {"datum": "Parameter Ensemble", "type": "nominal", "scale": {"domain": ["Parameter Ensemble", "Parameter Ensemble Mean"], "range": ["#ff0000", "#0000ff"]}}
         }},
        {"data": {"name": "mean"}, "transform": [{"filter": "datum.p == 'a7'"}],
         "mark": {"type": "line", "strokeWidth": 1.2, "clip": true},
         "encoding": {
           "x": {"field": "t", "type": "quantitative", "scale": {"domain": [0, 100], "nice": false}, "axis": {"orient": "top", "values": [0, 20, 40, 60, 80, 100], "title": "(h)", "titleX": -41, "titleY": 2}},
           "y": {"field": "v", "type": "quantitative", "scale": {"domain": [-1, 1], "nice": false, "zero": false}, "axis": {"orient": "right", "values": [-1, -0.5, 0, 0.5, 1], "title": null}},
           "stroke": {"datum": "Parameter Ensemble Mean", "type": "nominal", "scale": {"domain": ["Parameter Ensemble", "Parameter Ensemble Mean"], "range": ["#ff0000", "#0000ff"]}}
         }}
      ]
    },
    {
      "width": 206, "height": 171,
      "title": {"text": "a₈", "orient": "bottom", "offset": 7},
      "resolve": {"axis": {"x": "independent", "y": "independent"}},
      "layer": [
        {"data": {"name": "band"}, "transform": [{"filter": "datum.p == 'a8'"}],
         "mark": {"type": "area", "fill": "#ff0000", "strokeWidth": 0.8, "clip": true},
         "encoding": {
           "x": {"field": "t", "type": "quantitative", "scale": {"domain": [0, 100], "nice": false}, "axis": {"orient": "bottom", "values": [0, 20, 40, 60, 80, 100], "title": "Time"}},
           "y": {"field": "lo", "type": "quantitative", "scale": {"domain": [-3, 3], "nice": false, "zero": false}, "axis": {"orient": "left", "values": [-3, -1.5, 0, 1.5, 3], "title": "a₈"}},
           "y2": {"field": "hi"},
           "stroke": {"datum": "Parameter Ensemble", "type": "nominal", "scale": {"domain": ["Parameter Ensemble", "Parameter Ensemble Mean"], "range": ["#ff0000", "#0000ff"]}}
         }},
        {"data": {"name": "mean"}, "transform": [{"filter": "datum.p == 'a8'"}],
         "mark": {"type": "line", "strokeWidth": 1.2, "clip": true},
         "encoding": {
           "x": {"field": "t", "type": "quantitative", "scale": {"domain": [0, 100], "nice": false}, "axis": {"orient": "top", "values": [0, 20, 40, 60, 80, 100], "title": "(i)", "titleX": -33, "titleY": 2}},
           "y": {"field": "v", "type": "quantitative", "scale": {"domain": [-3, 3], "nice": false, "zero": false}, "axis": {"orient": "right", "values": [-3, -1.5, 0, 1.5, 3], "title": null}},
           "stroke": {"datum": "Parameter Ensemble Mean", "type": "nominal", "scale": {"domain": ["Parameter Ensemble", "Parameter Ensemble Mean"], "range": ["#ff0000", "#0000ff"]}}
         }}
      ]
    }
  ],
  "config": {
    "font": "Liberation Sans",
    "numberFormat": ".3~r",
    "view": {"stroke": "#a6a6a6", "strokeWidth": 1},
    "axis": {"labelFont": "Liberation Sans", "labelFontSize": 15, "labelColor": "#000", "labelOverlap": false, "labelFlush": false, "tickColor": "#b0b0b0", "tickSize": -4, "labelPadding": 9, "domain": false, "grid": false, "titleFont": "Liberation Sans", "titleFontSize": 16, "titleFontWeight": "normal", "titleColor": "#000"},
    "axisLeft": {"titleFontStyle": "italic", "titlePadding": -2, "domain": true, "domainColor": "#666"},
    "axisBottom": {"titlePadding": 7},
    "axisTop": {"labels": false, "titleFontStyle": "normal", "titleAngle": 0, "titleAlign": "left", "titleBaseline": "middle", "titleFontSize": 15.5},
    "axisRight": {"labels": false},
    "title": {"font": "Liberation Sans", "fontSize": 16, "fontStyle": "italic", "fontWeight": "normal", "color": "#000"}
  }
}
